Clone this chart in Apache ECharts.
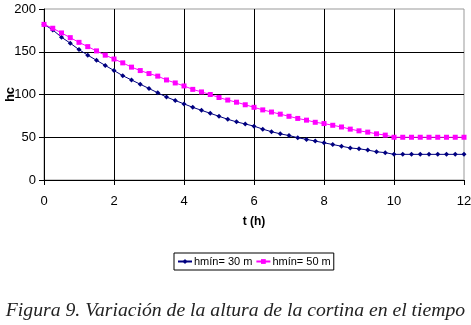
<!DOCTYPE html>
<html>
<head>
<meta charset="utf-8">
<script src="https://cdn.jsdelivr.net/npm/echarts@6/dist/echarts.min.js"></script>
<style>html,body{margin:0;padding:0;background:#fff;}#c{width:471px;height:325px;}</style>
</head>
<body>
<div id="c"></div>
<script>
var times = [0,0.25,0.5,0.75,1,1.25,1.5,1.75,2,2.25,2.5,2.75,3,3.25,3.5,3.75,4,4.25,4.5,4.75,5,5.25,5.5,5.75,6,6.25,6.5,6.75,7,7.25,7.5,7.75,8,8.25,8.5,8.75,9,9.25,9.5,9.75,10,10.25,10.5,10.75,11,11.25,11.5,11.75,12];
var hmin30 = [182,175.5,167,160,152.5,146,140,134,128,122,117,112,107,102,97,93,89,85,81.5,78,74.5,71,68,65.5,63,59.5,56.5,54,52,49.5,47.5,45.5,43.5,41.5,39.5,37.5,36.5,35,33,32,30,30,30,30,30,30,30,30,30];
var hmin50 = [182,177.5,172,166.5,161,156,151,146,141.5,137,132,128,124.5,121.5,117,113.5,110,106,103,100,96.5,93.5,91,88,85,82,79.5,77,74.5,72,70,67.5,66,64,62,59.5,57.5,56,54,52.5,50,50,50,50,50,50,50,50,50];
var seriesNames = ['hmín= 30 m','hmín= 50 m'];
var xTicks = [0,2,4,6,8,10,12];
var yTicks = [0,50,100,150,200];
var xTitle = 't (h)';
var yTitle = 'hc';
var caption = 'Figura 9. Variación de la altura de la cortina en el tiempo';

function pairs(xs, ys){ return xs.map(function(x,i){ return [x, ys[i]]; }); }

var chart = echarts.init(document.getElementById('c'), null, {renderer:'canvas'});
var axisFont = "'Liberation Sans Narrow','Liberation Sans',Arial,sans-serif";
chart.setOption({
  animation:false,
  backgroundColor:'#fff',
  title:{
    text: caption,
    left:'center',
    top:296,
    textStyle:{fontFamily:"'Liberation Serif',serif",fontStyle:'italic',fontWeight:'normal',fontSize:19.7,color:'#222'}
  },
  legend:{
    left:174, top:253,
    orient:'horizontal',
    padding:[3,3,3,3],
    itemGap:3,
    itemWidth:14, itemHeight:6,
    borderColor:'#000', borderWidth:1,
    textStyle:{fontFamily:axisFont,fontSize:11,color:'#000',padding:[0,0,0,-3]},
    data: seriesNames
  },
  grid:{left:44,right:7,top:9,bottom:145,outerBoundsMode:'none',containLabel:false,show:true,borderColor:'#999',borderWidth:1,backgroundColor:'#fff'},
  xAxis:{
    type:'value', min:xTicks[0], max:xTicks[xTicks.length-1], interval:2,
    name:xTitle, nameLocation:'middle', nameGap:36,
    nameTextStyle:{fontFamily:"'Liberation Sans',Arial,sans-serif",fontWeight:'bold',fontSize:12,color:'#000'},
    axisLine:{show:true,onZero:false,lineStyle:{color:'#000',width:1}},
    axisTick:{show:true,length:5,lineStyle:{color:'#000'}},
    axisLabel:{margin:15,fontFamily:axisFont,fontSize:13,color:'#000'},
    splitLine:{show:true,showMinLine:false,showMaxLine:false,lineStyle:{color:'#000',width:1}}
  },
  yAxis:{
    type:'value', min:yTicks[0], max:yTicks[yTicks.length-1], interval:50,
    name:yTitle, nameLocation:'middle', nameGap:27, nameRotate:90, nameMoveOverlap:false,
    nameTextStyle:{fontFamily:"'Liberation Sans',Arial,sans-serif",fontWeight:'bold',fontSize:13,color:'#000'},
    axisLine:{show:true,lineStyle:{color:'#000',width:1}},
    axisTick:{show:true,length:5,lineStyle:{color:'#000'}},
    axisLabel:{margin:8,fontFamily:axisFont,fontSize:13,color:'#000'},
    splitLine:{show:true,showMinLine:false,showMaxLine:false,lineStyle:{color:'#000',width:1}}
  },
  series:[
    {name:seriesNames[0],type:'line',data:pairs(times,hmin30),symbol:'diamond',symbolSize:5,showAllSymbol:true,
     lineStyle:{color:'#000080',width:1},itemStyle:{color:'#000080'}},
    {name:seriesNames[1],type:'line',data:pairs(times,hmin50),symbol:'rect',symbolSize:5,showAllSymbol:true,
     lineStyle:{color:'#ff00ff',width:1},itemStyle:{color:'#ff00ff'}}
  ]
});
</script>
</body>
</html>
